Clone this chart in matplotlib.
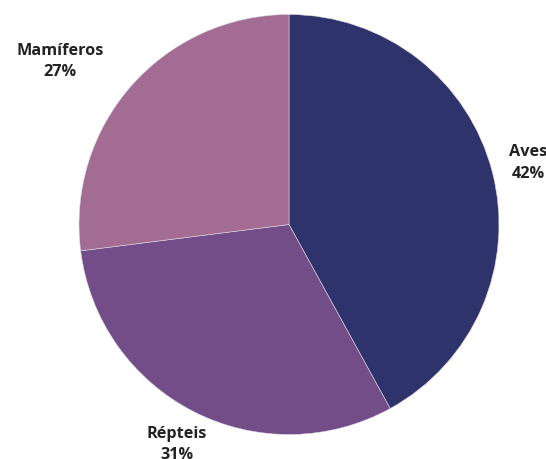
import numpy as np
import matplotlib.pyplot as plt

# Parts de chaque classe
categories = ["Aves", "Répteis", "Mamíferos"]
percentages = [42, 31, 27]
colors = ["#2f336b", "#734d87", "#a36c93"]
label_align = ["center", "center", "right"]

plt.rcParams['font.family'] = ['Open Sans', 'DejaVu Sans']

fig = plt.figure(figsize=(5.46, 4.59), dpi=100)
ax = fig.add_axes([0, 0, 1, 1])

# Centre et rayon en pixels
cx, cy, rad = 289.0, 459 - 224.5, 210.0

wedges, _ = ax.pie(percentages, colors=colors, startangle=90, counterclock=False,
                   radius=1.0, wedgeprops=dict(edgecolor="#dcd8e6", linewidth=0.4))

# Étiquettes : nom + pourcentage, placées au milieu de chaque part
for w, name, pct, ha in zip(wedges, categories, percentages, label_align):
    mid = np.deg2rad((w.theta1 + w.theta2) / 2)
    x, y = 1.175 * np.cos(mid), 1.175 * np.sin(mid)
    ax.text(x, y, f"{name}\n{pct}%", ha=ha, va="center", multialignment="center",
            fontsize=11.7, fontweight="bold", color="#222222", linespacing=1.45)

ax.set_xlim(-cx / rad, (546 - cx) / rad)
ax.set_ylim(-cy / rad, (459 - cy) / rad)
ax.set_aspect("auto")
ax.axis("off")

fig.savefig("out.png", dpi=100)
